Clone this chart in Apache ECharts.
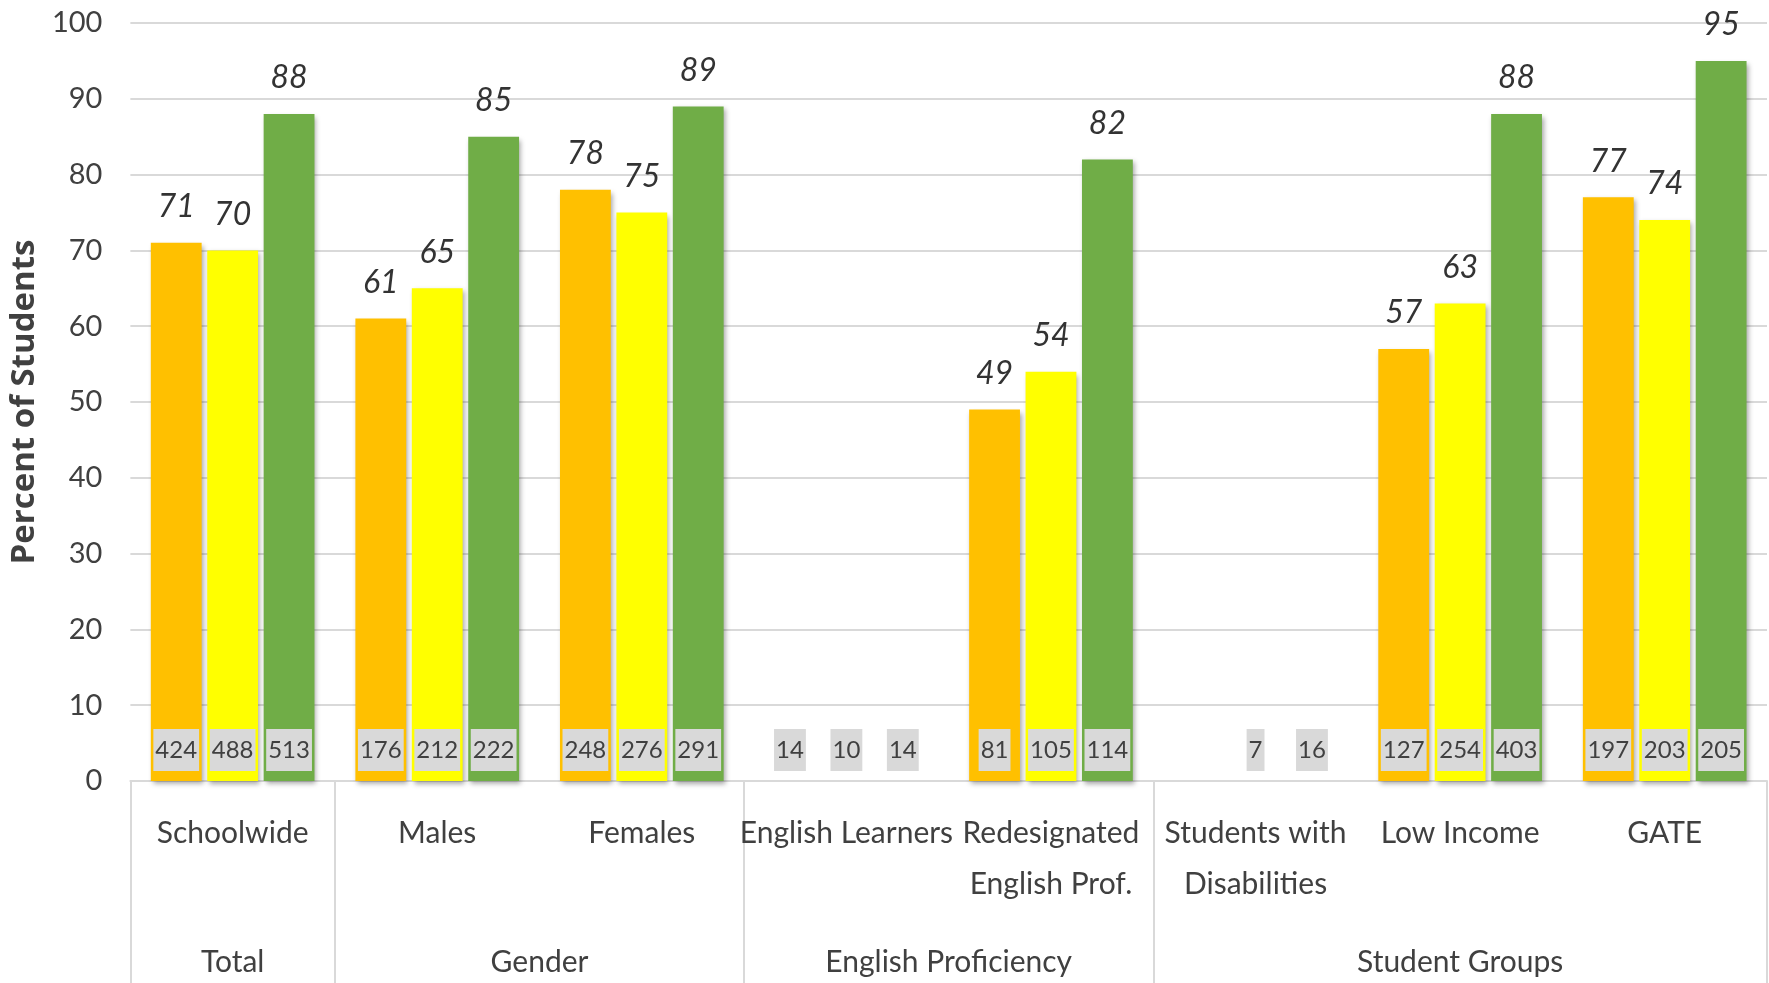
<!DOCTYPE html>
<html>
<head>
<meta charset="utf-8">
<script src="https://cdn.jsdelivr.net/npm/echarts@6/dist/echarts.min.js"></script>
<style>
html,body{margin:0;padding:0;background:#fff;}
#chart{width:1769px;height:983px;}
</style>
</head>
<body>
<div id="chart"></div>
<script>
// ---- data ----
const categories = ['Schoolwide', 'Males', 'Females', 'English Learners', 'Redesignated\nEnglish Prof.', 'Students with\nDisabilities', 'Low Income', 'GATE'];
const groups = ['Total', 'Gender', 'English Proficiency', 'Student Groups'];
const groupSizes = [1, 2, 2, 3];
const seriesNames = ['Series A', 'Series B', 'Series C'];
const pctA = [71, 61, 78, null, 49, null, 57, 77];
const pctB = [70, 65, 75, null, 54, null, 63, 74];
const pctC = [88, 85, 89, null, 82, null, 88, 95];
const countA = [424, 176, 248, 14, 81, null, 127, 197];
const countB = [488, 212, 276, 10, 105, 7, 254, 203];
const countC = [513, 222, 291, 14, 114, 16, 403, 205];
const yTicks = [0, 10, 20, 30, 40, 50, 60, 70, 80, 90, 100];

// ---- derived ----
const colors = ['#FFC000', '#FFFF00', '#70AD47'];
const pcts = [pctA, pctB, pctC];
const counts = [countA, countB, countC];
const boundaries = [0];
const centers = [];
groupSizes.forEach((s, i) => { centers.push(boundaries[i] + s / 2); boundaries.push(boundaries[i] + s); });

const FONT = 'Lato, "Liberation Sans", sans-serif';
const TXT = '#404040';
const GRID = '#d9d9d9';

const chart = echarts.init(document.getElementById('chart'));

const series = [];
pcts.forEach((d, i) => {
  series.push({
    name: seriesNames[i], type: 'bar', xAxisIndex: 0, data: d,
    barGap: '11%', barCategoryGap: '20%',
    itemStyle: { color: colors[i], shadowColor: 'rgba(0,0,0,0.35)', shadowBlur: 5, shadowOffsetX: 2, shadowOffsetY: 3 },
    label: { show: true, position: 'top', distance: 20, fontFamily: FONT, fontStyle: 'italic', fontSize: 32, color: '#333' }
  });
});
counts.forEach((d, i) => {
  series.push({
    name: 'n' + i, type: 'bar', xAxisIndex: 2, z: 5,
    data: d.map(v => v == null ? null : 0),
    barGap: '11%', barCategoryGap: '20%',
    itemStyle: { color: 'transparent' },
    silent: true,
    label: {
      show: true, position: 'insideBottom', distance: 10,
      formatter: p => d[p.dataIndex] == null ? '' : String(d[p.dataIndex]),
      fontFamily: FONT, fontSize: 24, color: TXT, lineHeight: 30,
      backgroundColor: '#d9d9d9', padding: [6, 2, 6, 2]
    }
  });
});

chart.setOption({
  animation: false,
  backgroundColor: '#fff',
  grid: { left: 117, right: 2, top: 23, bottom: 202, containLabel: false },
  xAxis: [
    {
      type: 'category', data: categories, position: 'bottom',
      axisLine: { show: true, lineStyle: { color: GRID, width: 2 } },
      axisTick: { show: false },
      axisLabel: { fontFamily: FONT, fontSize: 30, color: TXT, lineHeight: 51, margin: 27, interval: 0 }
    },
    {
      type: 'value', min: 0, max: boundaries[boundaries.length - 1], position: 'bottom',
      axisLine: { show: false }, splitLine: { show: false },
      axisTick: { show: true, customValues: boundaries, length: 210, inside: false, lineStyle: { color: GRID, width: 2 } },
      axisLabel: {
        customValues: centers, margin: 163, fontFamily: FONT, fontSize: 30, color: TXT, lineHeight: 36,
        formatter: v => { const k = centers.indexOf(v); return k >= 0 ? groups[k] : ''; }
      }
    },
    {
      type: 'category', data: categories, show: false
    }
  ],
  yAxis: {
    type: 'value', min: yTicks[0], max: yTicks[yTicks.length - 1], interval: 10,
    name: 'Percent of Students', nameLocation: 'middle', nameGap: 86, nameRotate: 90,
    nameTextStyle: { fontFamily: '"Open Sans", sans-serif', fontWeight: 'bold', fontSize: 33, color: TXT },
    axisLine: { show: false }, axisTick: { show: false },
    axisLabel: { fontFamily: FONT, fontSize: 29, color: TXT, margin: 28 },
    splitLine: { lineStyle: { color: GRID, width: 2 } }
  },
  series: series
});
</script>
</body>
</html>
